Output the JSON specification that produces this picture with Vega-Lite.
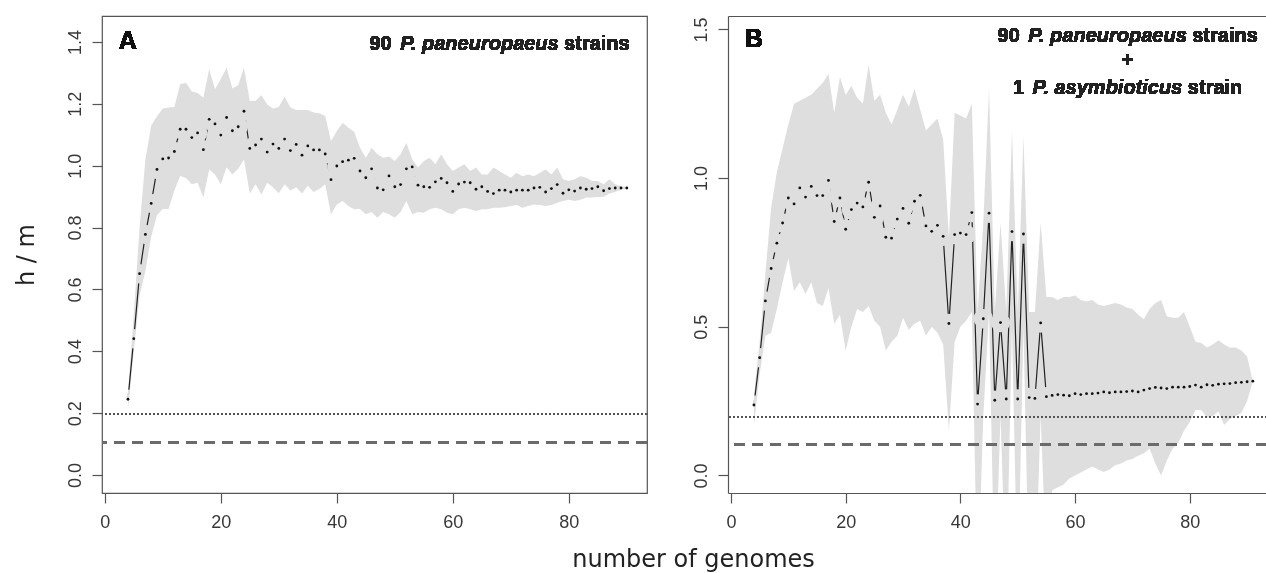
{
  "$schema": "https://vega.github.io/schema/vega-lite/v6.json",
  "background": "white",
  "padding": {"left": 13, "top": 15, "right": 0, "bottom": 0},
  "autosize": {"type": "pad"},
  "spacing": 81,
  "bounds": "flush",
  "config": {
    "font": "Liberation Sans",
    "view": {"stroke": null},
    "axis": {
      "labelFont": "Liberation Sans", "labelFontSize": 18, "labelColor": "#383838",
      "tickColor": "#555", "tickWidth": 1.2, "tickSize": 10,
      "domainColor": "#555", "domainWidth": 1.2, "grid": false,
      "titleFont": "DejaVu Sans", "titleFontSize": 24, "titleFontWeight": "normal", "titleColor": "#222",
      "labelOverlap": false, "labelFlush": false
    }
  },
  "datasets": {
    "a": [
      {"g":4,"m":0.245,"lo":0.21,"hi":0.27},{"g":5,"m":0.441,"lo":0.40,"hi":0.52},{"g":6,"m":0.651,"lo":0.58,"hi":0.80},
      {"g":7,"m":0.778,"lo":0.66,"hi":1.02},{"g":8,"m":0.878,"lo":0.77,"hi":1.13},{"g":9,"m":0.988,"lo":0.84,"hi":1.16},
      {"g":10,"m":1.022,"lo":0.86,"hi":1.185},{"g":11,"m":1.025,"lo":0.86,"hi":1.188},{"g":12,"m":1.046,"lo":0.92,"hi":1.19},
      {"g":13,"m":1.118,"lo":0.967,"hi":1.263},{"g":14,"m":1.118,"lo":0.96,"hi":1.268},{"g":15,"m":1.091,"lo":0.94,"hi":1.24},
      {"g":16,"m":1.106,"lo":0.945,"hi":1.235},{"g":17,"m":1.052,"lo":0.897,"hi":1.22},{"g":18,"m":1.150,"lo":0.988,"hi":1.312},
      {"g":19,"m":1.135,"lo":0.972,"hi":1.247},{"g":20,"m":1.099,"lo":0.94,"hi":1.28},{"g":21,"m":1.156,"lo":0.995,"hi":1.317},
      {"g":22,"m":1.113,"lo":0.972,"hi":1.25},{"g":23,"m":1.126,"lo":0.99,"hi":1.26},{"g":24,"m":1.176,"lo":1.02,"hi":1.317},
      {"g":25,"m":1.056,"lo":0.91,"hi":1.209},{"g":26,"m":1.067,"lo":0.94,"hi":1.21},{"g":27,"m":1.086,"lo":0.907,"hi":1.228},
      {"g":28,"m":1.044,"lo":0.945,"hi":1.198},{"g":29,"m":1.070,"lo":0.93,"hi":1.185},{"g":30,"m":1.056,"lo":0.911,"hi":1.19},
      {"g":31,"m":1.086,"lo":0.94,"hi":1.223},{"g":32,"m":1.049,"lo":0.92,"hi":1.188},{"g":33,"m":1.069,"lo":0.93,"hi":1.18},
      {"g":34,"m":1.034,"lo":0.91,"hi":1.18},{"g":35,"m":1.064,"lo":0.935,"hi":1.18},{"g":36,"m":1.051,"lo":0.915,"hi":1.172},
      {"g":37,"m":1.051,"lo":0.925,"hi":1.17},{"g":38,"m":1.038,"lo":0.94,"hi":1.161},{"g":39,"m":0.955,"lo":0.843,"hi":1.08},
      {"g":40,"m":0.999,"lo":0.875,"hi":1.112},{"g":41,"m":1.013,"lo":0.886,"hi":1.139},{"g":42,"m":1.018,"lo":0.87,"hi":1.123},
      {"g":43,"m":1.024,"lo":0.859,"hi":1.11},{"g":44,"m":0.983,"lo":0.86,"hi":1.058},{"g":45,"m":0.961,"lo":0.843,"hi":1.026},
      {"g":46,"m":0.990,"lo":0.85,"hi":1.058},{"g":47,"m":0.928,"lo":0.832,"hi":1.037},{"g":48,"m":0.922,"lo":0.85,"hi":1.026},
      {"g":49,"m":0.967,"lo":0.843,"hi":1.03},{"g":50,"m":0.932,"lo":0.832,"hi":1.015},{"g":51,"m":0.939,"lo":0.85,"hi":1.037},
      {"g":52,"m":0.990,"lo":0.886,"hi":1.074},{"g":53,"m":0.996,"lo":0.843,"hi":1.021},{"g":54,"m":0.937,"lo":0.85,"hi":0.994},
      {"g":55,"m":0.932,"lo":0.848,"hi":1.015},{"g":56,"m":0.930,"lo":0.859,"hi":1.026},{"g":57,"m":0.948,"lo":0.864,"hi":1.005},
      {"g":58,"m":0.959,"lo":0.859,"hi":1.037},{"g":59,"m":0.945,"lo":0.848,"hi":1.005},{"g":60,"m":0.917,"lo":0.843,"hi":0.983},
      {"g":61,"m":0.941,"lo":0.859,"hi":0.994},{"g":62,"m":0.947,"lo":0.864,"hi":1.005},{"g":63,"m":0.945,"lo":0.859,"hi":0.983},
      {"g":64,"m":0.924,"lo":0.854,"hi":0.994},{"g":65,"m":0.932,"lo":0.859,"hi":0.972},{"g":66,"m":0.917,"lo":0.859,"hi":0.972},
      {"g":67,"m":0.910,"lo":0.864,"hi":0.994},{"g":68,"m":0.921,"lo":0.864,"hi":0.983},{"g":69,"m":0.921,"lo":0.866,"hi":0.972},
      {"g":70,"m":0.915,"lo":0.870,"hi":0.961},{"g":71,"m":0.921,"lo":0.873,"hi":0.977},{"g":72,"m":0.921,"lo":0.864,"hi":0.966},
      {"g":73,"m":0.921,"lo":0.870,"hi":0.972},{"g":74,"m":0.928,"lo":0.875,"hi":0.966},{"g":75,"m":0.930,"lo":0.873,"hi":0.977},
      {"g":76,"m":0.915,"lo":0.870,"hi":0.988},{"g":77,"m":0.926,"lo":0.873,"hi":0.972},{"g":78,"m":0.939,"lo":0.880,"hi":0.994},
      {"g":79,"m":0.911,"lo":0.886,"hi":0.956},{"g":80,"m":0.922,"lo":0.89,"hi":0.951},{"g":81,"m":0.918,"lo":0.886,"hi":0.956},
      {"g":82,"m":0.928,"lo":0.89,"hi":0.966},{"g":83,"m":0.924,"lo":0.897,"hi":0.961},{"g":84,"m":0.926,"lo":0.897,"hi":0.951},
      {"g":85,"m":0.932,"lo":0.899,"hi":0.951},{"g":86,"m":0.919,"lo":0.90,"hi":0.94},{"g":87,"m":0.926,"lo":0.91,"hi":0.956},
      {"g":88,"m":0.928,"lo":0.915,"hi":0.94},{"g":89,"m":0.928,"lo":0.922,"hi":0.934},{"g":90,"m":0.928,"lo":0.928,"hi":0.928}
    ],
    "b": [
      {"g":4,"m":0.237,"lo":0.17,"hi":0.27},{"g":5,"m":0.396,"lo":0.34,"hi":0.45},{"g":6,"m":0.587,"lo":0.47,"hi":0.68},
      {"g":7,"m":0.696,"lo":0.48,"hi":0.90},{"g":8,"m":0.781,"lo":0.56,"hi":1.02},{"g":9,"m":0.849,"lo":0.65,"hi":1.10},
      {"g":10,"m":0.933,"lo":0.73,"hi":1.18},{"g":11,"m":0.913,"lo":0.62,"hi":1.25},{"g":12,"m":0.967,"lo":0.65,"hi":1.26},
      {"g":13,"m":0.936,"lo":0.61,"hi":1.27},{"g":14,"m":0.972,"lo":0.65,"hi":1.28},{"g":15,"m":0.941,"lo":0.58,"hi":1.30},
      {"g":16,"m":0.941,"lo":0.57,"hi":1.32},{"g":17,"m":0.992,"lo":0.63,"hi":1.35},{"g":18,"m":0.854,"lo":0.51,"hi":1.22},
      {"g":19,"m":0.933,"lo":0.54,"hi":1.34},{"g":20,"m":0.828,"lo":0.42,"hi":1.28},{"g":21,"m":0.894,"lo":0.50,"hi":1.31},
      {"g":22,"m":0.916,"lo":0.56,"hi":1.27},{"g":23,"m":0.903,"lo":0.55,"hi":1.25},{"g":24,"m":0.986,"lo":0.57,"hi":1.38},
      {"g":25,"m":0.868,"lo":0.52,"hi":1.26},{"g":26,"m":0.906,"lo":0.50,"hi":1.28},{"g":27,"m":0.801,"lo":0.42,"hi":1.22},
      {"g":28,"m":0.798,"lo":0.45,"hi":1.18},{"g":29,"m":0.862,"lo":0.47,"hi":1.23},{"g":30,"m":0.898,"lo":0.53,"hi":1.28},
      {"g":31,"m":0.848,"lo":0.49,"hi":1.24},{"g":32,"m":0.922,"lo":0.51,"hi":1.30},{"g":33,"m":0.942,"lo":0.52,"hi":1.23},
      {"g":34,"m":0.839,"lo":0.47,"hi":1.16},{"g":35,"m":0.821,"lo":0.50,"hi":1.18},{"g":36,"m":0.841,"lo":0.48,"hi":1.20},
      {"g":37,"m":0.804,"lo":0.44,"hi":1.13},{"g":38,"m":0.511,"lo":0.15,"hi":0.80},{"g":39,"m":0.810,"lo":0.45,"hi":1.22},
      {"g":40,"m":0.815,"lo":0.50,"hi":1.21},{"g":41,"m":0.810,"lo":0.52,"hi":1.20},{"g":42,"m":0.884,"lo":0.55,"hi":1.25},
      {"g":43,"m":0.240,"lo":-0.40,"hi":0.55},{"g":44,"m":0.527,"lo":0.20,"hi":0.85},{"g":45,"m":0.882,"lo":0.55,"hi":1.30},
      {"g":46,"m":0.253,"lo":-0.40,"hi":0.55},{"g":47,"m":0.514,"lo":0.20,"hi":0.85},{"g":48,"m":0.257,"lo":-0.40,"hi":0.55},
      {"g":49,"m":0.820,"lo":0.50,"hi":1.16},{"g":50,"m":0.257,"lo":-0.40,"hi":0.55},{"g":51,"m":0.812,"lo":0.50,"hi":1.14},
      {"g":52,"m":0.262,"lo":-0.40,"hi":0.55},{"g":53,"m":0.259,"lo":-0.40,"hi":0.55},{"g":54,"m":0.513,"lo":0.20,"hi":0.85},
      {"g":55,"m":0.265,"lo":-0.30,"hi":0.60},{"g":56,"m":0.269,"lo":-0.05,"hi":0.60},{"g":57,"m":0.272,"lo":-0.04,"hi":0.59},
      {"g":58,"m":0.270,"lo":-0.03,"hi":0.60},{"g":59,"m":0.268,"lo":-0.01,"hi":0.60},{"g":60,"m":0.275,"lo":0.0,"hi":0.605},
      {"g":61,"m":0.272,"lo":0.01,"hi":0.59},{"g":62,"m":0.275,"lo":0.02,"hi":0.585},{"g":63,"m":0.275,"lo":0.03,"hi":0.59},
      {"g":64,"m":0.277,"lo":0.02,"hi":0.575},{"g":65,"m":0.281,"lo":0.012,"hi":0.57},{"g":66,"m":0.278,"lo":0.02,"hi":0.575},
      {"g":67,"m":0.281,"lo":0.034,"hi":0.58},{"g":68,"m":0.281,"lo":0.04,"hi":0.575},{"g":69,"m":0.282,"lo":0.05,"hi":0.565},
      {"g":70,"m":0.284,"lo":0.055,"hi":0.56},{"g":71,"m":0.281,"lo":0.066,"hi":0.54},{"g":72,"m":0.287,"lo":0.075,"hi":0.525},
      {"g":73,"m":0.292,"lo":0.09,"hi":0.56},{"g":74,"m":0.296,"lo":0.04,"hi":0.58},{"g":75,"m":0.294,"lo":0.0,"hi":0.59},
      {"g":76,"m":0.292,"lo":0.05,"hi":0.535},{"g":77,"m":0.297,"lo":0.09,"hi":0.53},{"g":78,"m":0.297,"lo":0.11,"hi":0.53},
      {"g":79,"m":0.297,"lo":0.15,"hi":0.55},{"g":80,"m":0.299,"lo":0.18,"hi":0.50},{"g":81,"m":0.304,"lo":0.22,"hi":0.45},
      {"g":82,"m":0.297,"lo":0.22,"hi":0.445},{"g":83,"m":0.305,"lo":0.195,"hi":0.43},{"g":84,"m":0.303,"lo":0.20,"hi":0.44},
      {"g":85,"m":0.307,"lo":0.215,"hi":0.455},{"g":86,"m":0.308,"lo":0.17,"hi":0.44},{"g":87,"m":0.309,"lo":0.19,"hi":0.43},
      {"g":88,"m":0.312,"lo":0.20,"hi":0.43},{"g":89,"m":0.313,"lo":0.21,"hi":0.42},{"g":90,"m":0.315,"lo":0.25,"hi":0.40},
      {"g":91,"m":0.317,"lo":0.317,"hi":0.317}
    ]
  },
  "hconcat": [
    {
      "width": 545,
      "height": 477,
      "data": {"name": "a"},
      "view": {"stroke": "#555", "strokeWidth": 1.2},
      "encoding": {
        "x": {"field": "g", "type": "quantitative", "scale": {"domain": [-0.48, 93.48], "nice": false, "zero": false},
          "axis": {"values": [0, 20, 40, 60, 80], "domain": false, "labelPadding": 10,
            "title": "number of genomes", "titleX": 591, "titleY": 73, "titleAlign": "center", "titleBaseline": "alphabetic", "titleAnchor": null}}
      },
      "layer": [
        {"mark": {"type": "area", "color": "#dedede", "opacity": 1, "clip": true},
         "encoding": {"y": {"field": "lo", "type": "quantitative", "scale": {"domain": [-0.058, 1.484], "nice": false, "zero": false},
           "axis": {"values": [0, 0.2, 0.4, 0.6, 0.8, 1.0, 1.2, 1.4], "format": ".1f", "domain": false,
             "labelAngle": -90, "labelAlign": "center", "labelBaseline": "bottom", "labelPadding": 8,
             "title": "h / m", "titleX": -76, "titleY": 238.5, "titleAngle": -90, "titleAlign": "center", "titleBaseline": "middle", "titleAnchor": null}},
           "y2": {"field": "hi"}}},
        {"mark": {"type": "rule", "color": "#555", "strokeWidth": 1, "strokeDash": [1.5, 2.5]},
         "encoding": {"x": null, "y": {"datum": 0.196, "type": "quantitative"}}},
        {"mark": {"type": "rule", "color": "#6b6b6b", "strokeWidth": 2.6, "strokeDash": [11, 7]},
         "encoding": {"x": null, "y": {"datum": 0.105, "type": "quantitative"}}},
        {"mark": {"type": "line", "color": "#222", "strokeWidth": 1.2},
         "encoding": {"y": {"field": "m", "type": "quantitative"}}},
        {"mark": {"type": "circle", "size": 380, "color": "#dedede", "opacity": 1, "blend": "lighten"},
         "encoding": {"y": {"field": "m", "type": "quantitative"}}},
        {"mark": {"type": "circle", "size": 8, "color": "#111", "opacity": 1},
         "encoding": {"y": {"field": "m", "type": "quantitative"}}},
        {"mark": {"type": "text", "text": "A", "fontSize": 25, "fontWeight": "bold", "align": "left", "baseline": "middle", "color": "#111"},
         "encoding": {"x": {"datum": 2.4, "type": "quantitative"}, "y": {"datum": 1.403, "type": "quantitative"}}},
        {"mark": {"type": "text", "text": "strains", "fontSize": 20, "fontWeight": "bold", "align": "right", "baseline": "middle", "color": "#222"},
         "encoding": {"x": {"datum": 90.5, "type": "quantitative"}, "y": {"datum": 1.395, "type": "quantitative"}}},
        {"mark": {"type": "text", "text": "P. paneuropaeus", "fontSize": 20, "fontWeight": "bold", "fontStyle": "italic", "align": "right", "baseline": "middle", "color": "#222", "dx": -71},
         "encoding": {"x": {"datum": 90.5, "type": "quantitative"}, "y": {"datum": 1.395, "type": "quantitative"}}},
        {"mark": {"type": "text", "text": "90", "fontSize": 20, "fontWeight": "bold", "align": "right", "baseline": "middle", "color": "#222", "dx": -238},
         "encoding": {"x": {"datum": 90.5, "type": "quantitative"}, "y": {"datum": 1.395, "type": "quantitative"}}}
      ]
    },
    {
      "width": 539,
      "height": 477,
      "data": {"name": "b"},
      "resolve": {"axis": {"x": "independent"}},
      "layer": [
        {"mark": {"type": "area", "color": "#dedede", "opacity": 1, "clip": true},
         "encoding": {
           "x": {"field": "g", "type": "quantitative", "scale": {"domain": [-0.52, 93.47], "nice": false, "zero": false},
             "axis": {"values": [0, 20, 40, 60, 80], "domain": true, "labelPadding": 10, "title": null}},
           "y": {"field": "lo", "type": "quantitative", "scale": {"domain": [-0.059, 1.545], "nice": false, "zero": false},
             "axis": {"values": [0, 0.5, 1.0, 1.5], "format": ".1f", "domain": true,
               "labelAngle": -90, "labelAlign": "center", "labelBaseline": "bottom", "labelPadding": 8, "title": null}},
           "y2": {"field": "hi"}}},
        {"mark": {"type": "rule", "color": "#555", "strokeWidth": 1, "strokeDash": [1.5, 2.5]},
         "encoding": {"y": {"datum": 0.196, "type": "quantitative"}}},
        {"mark": {"type": "rule", "color": "#6b6b6b", "strokeWidth": 2.6, "strokeDash": [11, 7]},
         "encoding": {"y": {"datum": 0.105, "type": "quantitative"}}},
        {"mark": {"type": "line", "color": "#222", "strokeWidth": 1.2},
         "encoding": {
           "x": {"field": "g", "type": "quantitative", "axis": {"orient": "top", "labels": false, "ticks": false, "domain": true, "title": null}},
           "y": {"field": "m", "type": "quantitative"}}},
        {"mark": {"type": "circle", "size": 380, "color": "#dedede", "opacity": 1, "blend": "lighten"},
         "encoding": {"x": {"field": "g", "type": "quantitative", "axis": null}, "y": {"field": "m", "type": "quantitative"}}},
        {"mark": {"type": "circle", "size": 8, "color": "#111", "opacity": 1},
         "encoding": {"x": {"field": "g", "type": "quantitative", "axis": null}, "y": {"field": "m", "type": "quantitative"}}},
        {"mark": {"type": "text", "text": "B", "fontSize": 25, "fontWeight": "bold", "align": "left", "baseline": "middle", "color": "#111"},
         "encoding": {"x": {"datum": 2.4, "type": "quantitative", "axis": null}, "y": {"datum": 1.466, "type": "quantitative"}}},
        {"mark": {"type": "text", "text": "strains", "fontSize": 20, "fontWeight": "bold", "align": "right", "baseline": "middle", "color": "#222", "dx": 130},
         "encoding": {"x": {"datum": 69.2, "type": "quantitative", "axis": null}, "y": {"datum": 1.478, "type": "quantitative"}}},
        {"mark": {"type": "text", "text": "P. paneuropaeus", "fontSize": 20, "fontWeight": "bold", "fontStyle": "italic", "align": "right", "baseline": "middle", "color": "#222", "dx": 59},
         "encoding": {"x": {"datum": 69.2, "type": "quantitative", "axis": null}, "y": {"datum": 1.478, "type": "quantitative"}}},
        {"mark": {"type": "text", "text": "90", "fontSize": 20, "fontWeight": "bold", "align": "right", "baseline": "middle", "color": "#222", "dx": -108},
         "encoding": {"x": {"datum": 69.2, "type": "quantitative", "axis": null}, "y": {"datum": 1.478, "type": "quantitative"}}},
        {"mark": {"type": "text", "text": "+", "fontSize": 20, "fontWeight": "bold", "align": "center", "baseline": "middle", "color": "#222"},
         "encoding": {"x": {"datum": 69.2, "type": "quantitative", "axis": null}, "y": {"datum": 1.394, "type": "quantitative"}}},
        {"mark": {"type": "text", "text": "strain", "fontSize": 20, "fontWeight": "bold", "align": "right", "baseline": "middle", "color": "#222", "dx": 114.5},
         "encoding": {"x": {"datum": 69.2, "type": "quantitative", "axis": null}, "y": {"datum": 1.304, "type": "quantitative"}}},
        {"mark": {"type": "text", "text": "P. asymbioticus", "fontSize": 20, "fontWeight": "bold", "fontStyle": "italic", "align": "right", "baseline": "middle", "color": "#222", "dx": 54.5},
         "encoding": {"x": {"datum": 69.2, "type": "quantitative", "axis": null}, "y": {"datum": 1.304, "type": "quantitative"}}},
        {"mark": {"type": "text", "text": "1", "fontSize": 20, "fontWeight": "bold", "align": "right", "baseline": "middle", "color": "#222", "dx": -103.4},
         "encoding": {"x": {"datum": 69.2, "type": "quantitative", "axis": null}, "y": {"datum": 1.304, "type": "quantitative"}}}
      ]
    }
  ]
}
